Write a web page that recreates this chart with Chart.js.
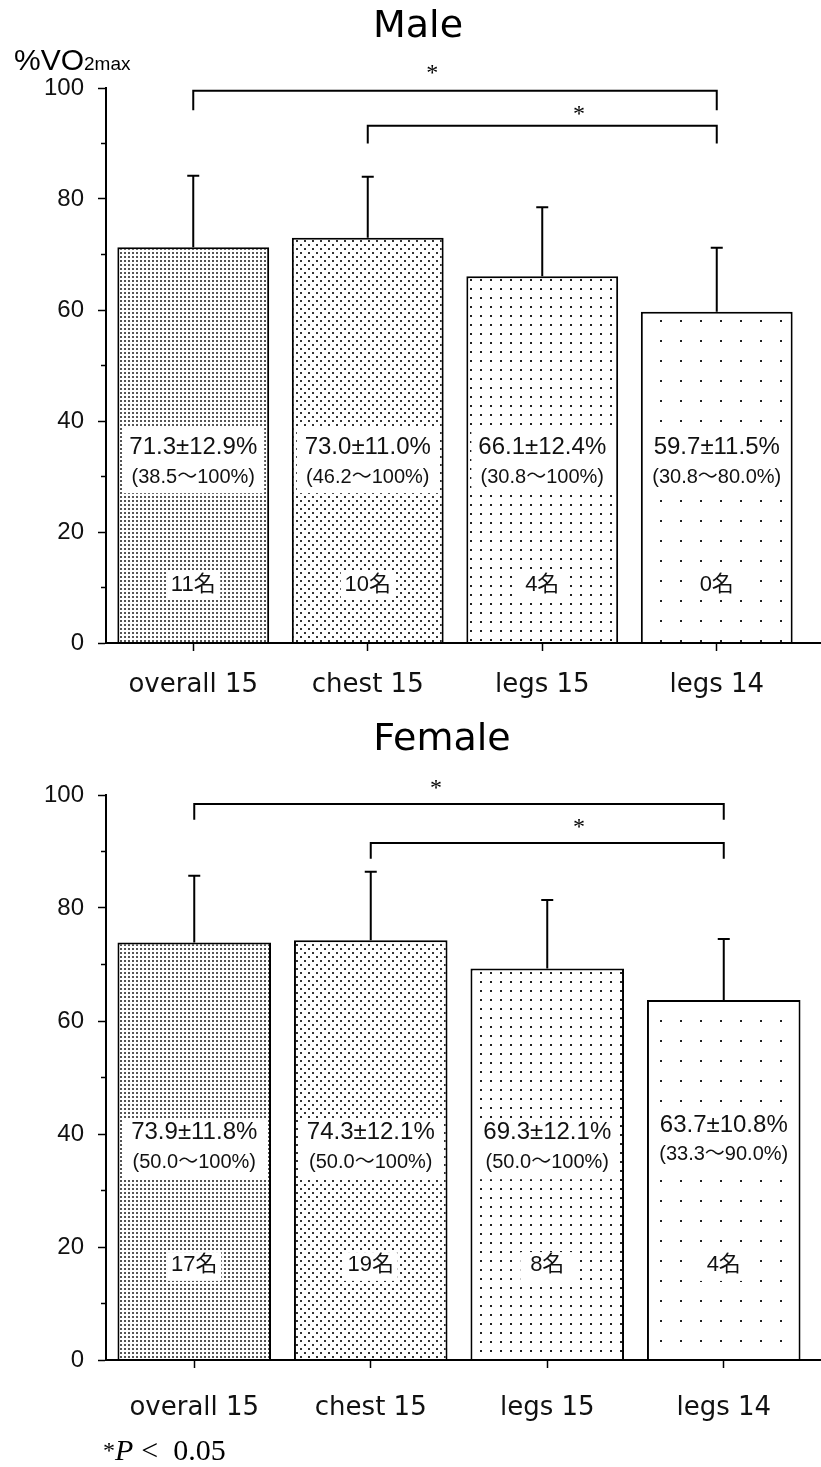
<!DOCTYPE html>
<html>
<head>
<meta charset="utf-8">
<script src="https://cdn.jsdelivr.net/npm/chart.js@4.4.0/dist/chart.umd.min.js"></script>
<style>
    html, body { margin: 0; padding: 0; background: #fff; }
    .box { position: relative; width: 821px; }
</style>
</head>
<body>
<div class="box" style="height:720px"><canvas id="male"></canvas></div>
<div class="box" style="height:747px"><canvas id="female"></canvas></div>
<script>
const categories = ['overall 15', 'chest 15', 'legs 15', 'legs 14'];
const yTickValues = [0, 20, 40, 60, 80, 100];
const yMinorTicks = [10, 30, 50, 70, 90];

const maleMean = [71.3, 73.0, 66.1, 59.7];
const maleSD = [12.9, 11.0, 12.4, 11.5];
const maleRange = ['(38.5～100%)', '(46.2～100%)', '(30.8～100%)', '(30.8～80.0%)'];
const maleCount = ['11名', '10名', '4名', '0名'];

const femaleMean = [73.9, 74.3, 69.3, 63.7];
const femaleSD = [11.8, 12.1, 12.1, 10.8];
const femaleRange = ['(50.0～100%)', '(50.0～100%)', '(50.0～100%)', '(33.3～90.0%)'];
const femaleCount = ['17名', '19名', '8名', '4名'];

// pairs of categories marked *P < 0.05
const sigPairs = [[0, 3], [1, 3]];

const SANS = '"Liberation Sans", "Noto Sans CJK JP", sans-serif';

// dotted fills, one per bar
function dotPattern(w, h, dots, size, color) {
    const c = document.createElement('canvas');
    c.width = w;
    c.height = h;
    const g = c.getContext('2d');
    g.fillStyle = '#fff';
    g.fillRect(0, 0, w, h);
    g.fillStyle = color;
    dots.forEach(([x, y]) => g.fillRect(x, y, size, size));
    return g.createPattern(c, 'repeat');
}
const fills = [
    dotPattern(4, 4, [[0, 0]], 2, '#555'),
    dotPattern(8, 8, [[0, 0], [4, 4]], 2, '#333'),
    dotPattern(10, 9, [[0, 0]], 2, '#222'),
    dotPattern(20, 20, [[0, 0]], 2, '#222')
];

const notesPlugin = {
    id: 'notes',
    afterDraw(chart, args, o) {
        const ctx = chart.ctx;
        const area = chart.chartArea;
        const x = chart.scales.x;
        const y = chart.scales.y;
        const bars = chart.getDatasetMeta(0).data;
        ctx.save();
        ctx.strokeStyle = '#000';
        ctx.fillStyle = '#000';

        // base line runs out to the edge
        ctx.lineWidth = 2;
        ctx.beginPath();
        ctx.moveTo(area.left - 1, area.bottom);
        ctx.lineTo(chart.width, area.bottom);
        ctx.stroke();

        // minor ticks
        ctx.lineWidth = 1.5;
        yMinorTicks.forEach(v => {
            const py = y.getPixelForValue(v);
            ctx.beginPath();
            ctx.moveTo(area.left - 5, py);
            ctx.lineTo(area.left, py);
            ctx.stroke();
        });

        // error bars (mean + SD)
        ctx.lineWidth = 2;
        bars.forEach((bar, i) => {
            const top = y.getPixelForValue(o.mean[i] + o.sd[i]);
            ctx.beginPath();
            ctx.moveTo(bar.x, bar.y);
            ctx.lineTo(bar.x, top);
            ctx.moveTo(bar.x - 6, top);
            ctx.lineTo(bar.x + 6, top);
            ctx.stroke();
        });

        // labels inside the bars
        ctx.textAlign = 'center';
        ctx.textBaseline = 'middle';
        bars.forEach((bar, i) => {
            const shift = o.shift[i];
            const half = bar.width / 2;
            const bTop = y.getPixelForValue(o.box[0] + shift);
            const bBot = y.getPixelForValue(o.box[1] + shift);
            ctx.fillStyle = '#fff';
            ctx.fillRect(bar.x - half + 5, bTop, bar.width - 10, bBot - bTop);
            const cTop = y.getPixelForValue(o.countBox[0]);
            const cBot = y.getPixelForValue(o.countBox[1]);
            ctx.fillRect(bar.x - 27, cTop, 54, cBot - cTop);

            ctx.fillStyle = '#111';
            ctx.font = '24px ' + SANS;
            ctx.fillText(o.mean[i].toFixed(1) + '±' + o.sd[i].toFixed(1) + '%', bar.x, y.getPixelForValue(o.statY + shift));
            ctx.font = '20px ' + SANS;
            ctx.fillText(o.range[i], bar.x, y.getPixelForValue(o.rangeY + shift));
            ctx.font = '22px ' + SANS;
            ctx.fillText(o.count[i], bar.x, y.getPixelForValue(o.countY));
        });

        // significance brackets
        ctx.strokeStyle = '#000';
        ctx.fillStyle = '#000';
        ctx.lineWidth = 2;
        sigPairs.forEach(([a, b], k) => {
            const br = o.brackets[k];
            const xa = x.getPixelForValue(a);
            const xb = x.getPixelForValue(b);
            const yl = y.getPixelForValue(br.y);
            const yd = y.getPixelForValue(br.leg);
            ctx.beginPath();
            ctx.moveTo(xa, yd);
            ctx.lineTo(xa, yl);
            ctx.lineTo(xb, yl);
            ctx.lineTo(xb, yd);
            ctx.stroke();
            ctx.font = '24px "Liberation Serif", serif';
            ctx.fillText('*', x.getPixelForValue(br.star), y.getPixelForValue(br.starY));
        });

        // title
        ctx.textBaseline = 'alphabetic';
        ctx.font = '38px "DejaVu Sans", sans-serif';
        ctx.fillText(o.title, o.titleX, o.titleY);

        if (o.yTitle) {
            ctx.textAlign = 'left';
            ctx.font = '30px ' + SANS;
            ctx.fillText('%VO', 14, 70);
            const w = ctx.measureText('%VO').width;
            ctx.font = '19px ' + SANS;
            ctx.fillText('2max', 14 + w, 70);
        }
        if (o.footnote) {
            ctx.textAlign = 'left';
            let px = 103;
            const py = chart.height - 7;
            ctx.font = '24px "Liberation Serif", serif';
            ctx.fillText('*', px, py - 2);
            px += ctx.measureText('*').width;
            ctx.font = 'italic 30px "Liberation Serif", serif';
            ctx.fillText('P', px, py);
            px += ctx.measureText('P').width + 8;
            ctx.font = '30px "Liberation Serif", serif';
            ctx.fillText('<  0.05', px, py);
        }
        ctx.restore();
    }
};

function makeChart(id, mean, sd, range, count, look) {
    return new Chart(document.getElementById(id), {
        type: 'bar',
        data: {
            labels: categories,
            datasets: [{
                data: mean,
                backgroundColor: fills,
                borderColor: '#000',
                borderWidth: 2,
                borderSkipped: 'start',
                barPercentage: 0.87,
                categoryPercentage: 1
            }]
        },
        options: {
            responsive: true,
            maintainAspectRatio: false,
            animation: false,
            layout: { padding: { top: look.top, right: look.right, left: 0, bottom: 0 } },
            plugins: {
                legend: { display: false },
                tooltip: { enabled: false },
                notes: Object.assign({ mean, sd, range, count }, look)
            },
            scales: {
                x: {
                    grid: { offset: false, drawOnChartArea: false, tickLength: 8, tickWidth: 1.5, tickColor: '#000' },
                    border: { display: false },
                    ticks: { color: '#111', font: { family: 'DejaVu Sans', size: 26 }, padding: look.xPad, maxRotation: 0 },
                    afterFit: s => { s.height = look.xHeight; }
                },
                y: {
                    min: 0,
                    max: 100,
                    afterBuildTicks: s => { s.ticks = yTickValues.map(v => ({ value: v })); },
                    ticks: { color: '#111', font: { family: 'Liberation Sans', size: 24 }, padding: 14 },
                    grid: { drawOnChartArea: false, tickLength: 8, tickWidth: 1.5, tickColor: '#000' },
                    border: { color: '#000', width: 2 },
                    afterFit: s => { s.width = 106; }
                }
            }
        },
        plugins: [notesPlugin]
    });
}

makeChart('male', maleMean, maleSD, maleRange, maleCount, {
    top: 88, right: 17, xHeight: 77, xPad: 19,
    title: 'Male', titleX: 418, titleY: 37, yTitle: true, footnote: false,
    statY: 35.3, rangeY: 29.9, countY: 10.4, box: [38.8, 27.0], countBox: [12.8, 7.9],
    shift: [0, 0, 0, 0],
    brackets: [
        { y: 99.5, leg: 96, star: 1.37, starY: 102.6 },
        { y: 93.2, leg: 90, star: 2.21, starY: 95.2 }
    ]
});

makeChart('female', femaleMean, femaleSD, femaleRange, femaleCount, {
    top: 75, right: 9, xHeight: 107, xPad: 25,
    title: 'Female', titleX: 442, titleY: 30, yTitle: false, footnote: true,
    statY: 40.2, rangeY: 34.9, countY: 16.8, box: [42.7, 32.0], countBox: [19.1, 14.0],
    shift: [0, 0, 0, 1.4],
    brackets: [
        { y: 98.4, leg: 95.6, star: 1.37, starY: 101.2 },
        { y: 91.5, leg: 88.7, star: 2.18, starY: 94.2 }
    ]
});
</script>
</body>
</html>
